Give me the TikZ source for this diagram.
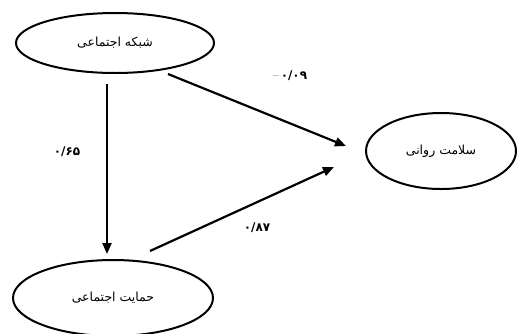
\documentclass[tikz,border=0pt]{standalone}
\usepackage{fontspec}
\usetikzlibrary{shapes.geometric,arrows.meta}
\newfontfamily\fa[Script=Arabic]{DejaVu Sans}
\TeXXeTstate=1
\tikzset{
  oval/.style={ellipse, draw, line width=2pt, inner sep=0pt, font=\fa\fontsize{12.5}{14}\selectfont},
  conn/.style={line width=2.2pt, -{Triangle[length=11pt,width=9pt]}},
  lbl/.style={font=\fa\bfseries\fontsize{12}{14}\selectfont, inner sep=0pt}
}
\begin{document}
\begin{tikzpicture}[x=1pt,y=-1pt]
\useasboundingbox (0,0) rectangle (518,333);
\node[oval, minimum width=198pt, minimum height=60pt] (top) at (115,43) {\beginR شبکه اجتماعی\endR};
\node[oval, minimum width=150pt, minimum height=76pt] (right) at (441,151) {\beginR سلامت روانی\endR};
\node[oval, minimum width=200pt, minimum height=76pt] (bot) at (113,298) {\beginR حمایت اجتماعی\endR};
\coordinate (v1) at (107,84);
\coordinate (v2) at (107,254);
\coordinate (d1) at (168,74);
\coordinate (d2) at (346,146);
\coordinate (u1) at (150,251);
\coordinate (u2) at (334,167);
\draw[conn] (v1) -- (v2);
\draw[conn] (d1) -- (d2);
\draw[conn] (u1) -- (u2);
\node[lbl] (l1) at (67,152) {۰/۶۵};
\node[lbl] (l2) at (290,76) {\beginL{\normalfont\rmfamily --}\,۰/۰۹\endL};
\node[lbl] (l3) at (257,228) {۰/۸۷};
\end{tikzpicture}
\end{document}
